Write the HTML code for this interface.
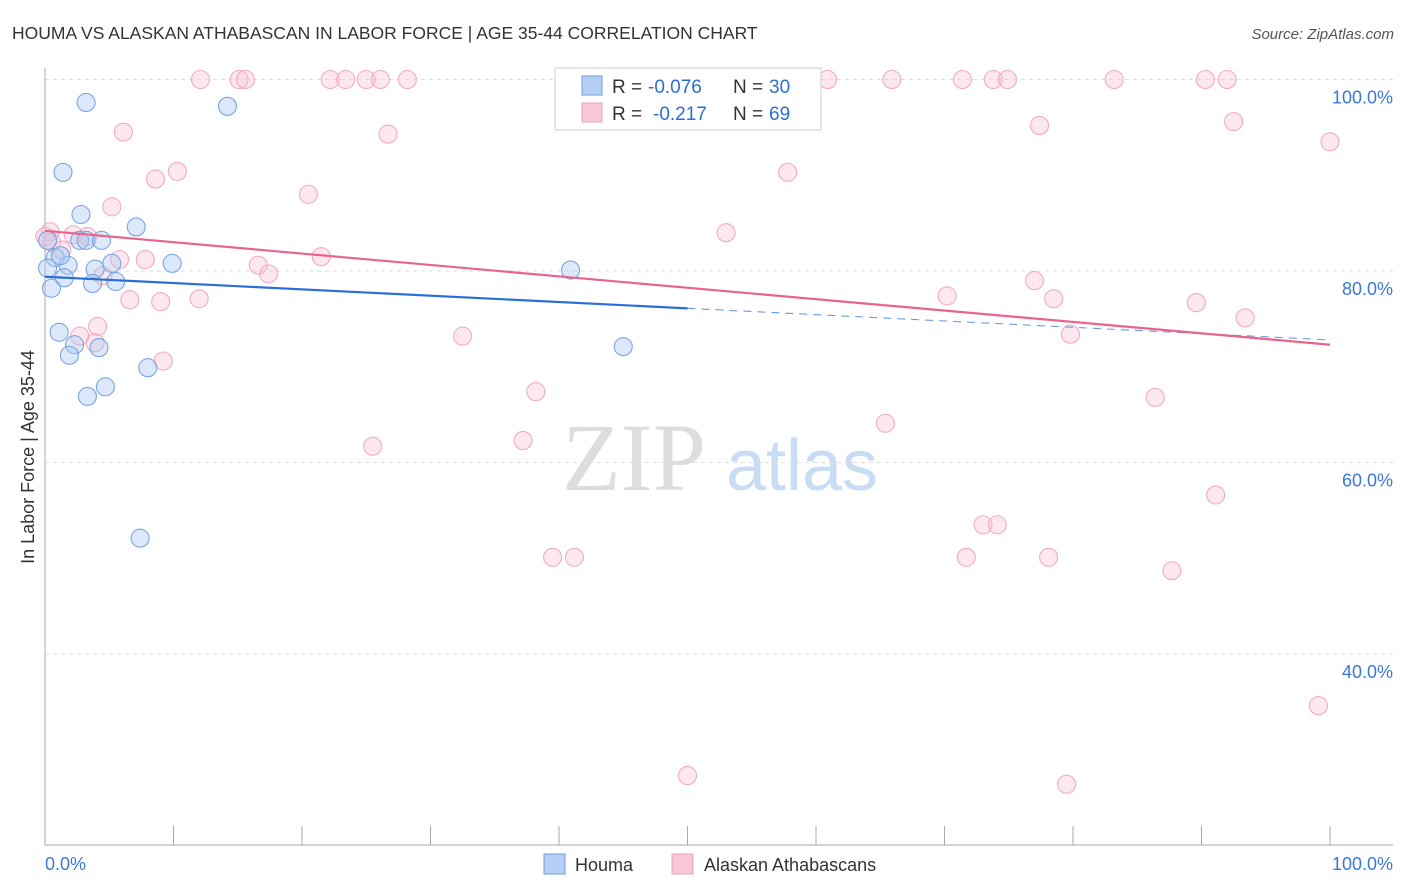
<!DOCTYPE html>
<html><head><meta charset="utf-8"><style>
body{margin:0;background:#fff;font-family:"Liberation Sans",sans-serif;}
svg{display:block}
</style></head><body>
<svg id="chart" width="1406" height="892">
<text x="12" y="39" font-size="17.5" fill="#333">HOUMA VS ALASKAN ATHABASCAN IN LABOR FORCE | AGE 35-44 CORRELATION CHART</text>
<text x="1394" y="39" font-size="15" fill="#555" font-style="italic" text-anchor="end">Source: ZipAtlas.com</text>
<text x="634" y="490" font-size="96" fill="#ddd" font-family="Liberation Serif,serif" text-anchor="middle">ZIP</text>
<text x="802" y="490" font-size="72" fill="#c8dcf4" text-anchor="middle">atlas</text>
<text transform="translate(34,457) rotate(-90)" font-size="18" fill="#333" text-anchor="middle">In Labor Force | Age 35-44</text>
<g id="grid"></g><g id="pts"></g><g id="lines"></g>
<g>
<rect x="555" y="68" width="266" height="62" fill="#fff" stroke="#ccc"/>
<rect x="582" y="76" width="20" height="19" fill="#b6d0f3" stroke="#6a9be0"/>
<rect x="582" y="103" width="20" height="19" fill="#f9c8d6" stroke="#f0a0b8"/>
<g font-size="19" fill="#333">
<text x="612" y="93">R =</text>
<text x="648" y="93" fill="#2a6fd6">-0.076</text>
<text x="733" y="93">N =</text>
<text x="769" y="93" fill="#2a6fd6">30</text>
<text x="612" y="120">R =</text>
<text x="653" y="120" fill="#2a6fd6">-0.217</text>
<text x="733" y="120">N =</text>
<text x="769" y="120" fill="#2a6fd6">69</text>
</g>
</g>
<g>
<rect x="544" y="854" width="21" height="20" fill="#b6d0f3" stroke="#6a9be0"/>
<text x="575" y="871" font-size="18" fill="#333">Houma</text>
<rect x="672" y="854" width="21" height="20" fill="#f9c8d6" stroke="#f0a0b8"/>
<text x="704" y="871" font-size="18" fill="#333">Alaskan Athabascans</text>
</g>
</svg>
<script>
const yTicks=[40,60,80,100];
const yTickLabels=["40.0%","60.0%","80.0%","100.0%"];
const xTickCount=[0,10,20,30,40,50,60,70,80,90,100];
const houmaX=[3.2,14.2,1.4,2.8,7.1,2.7,3.2,4.4,9.9,0.8,1.8,3.9,5.2,0.5,1.5,3.7,5.5,40.9,1.1,2.3,1.9,4.2,45.0,8.0,4.7,3.3,7.4,0.2,1.2,0.2];
const houmaY=[97.6,97.2,90.3,85.9,84.6,83.2,83.2,83.2,80.8,81.4,80.6,80.2,80.8,78.2,79.3,78.7,78.9,80.1,73.6,72.3,71.2,72.0,72.1,69.9,67.9,66.9,52.1,80.3,81.6,83.2];
const alaskX=[12.1,15.1,15.6,22.2,23.4,25.0,26.1,28.2,60.9,65.9,71.4,73.8,74.9,83.2,90.3,92.0,6.1,10.3,8.6,5.2,20.5,26.7,57.8,77.4,92.5,100,53.0,21.5,16.6,17.4,7.8,5.8,6.6,9.0,12.0,4.1,2.7,3.9,9.2,32.5,38.2,37.2,25.5,39.5,41.2,65.4,70.2,77.0,78.5,79.8,89.6,93.4,86.4,91.1,73.0,74.1,71.7,78.1,87.7,99.1,50.0,79.5,0.4,0.5,1.3,2.2,3.3,4.5,0.0];
const alaskY=[100,100,100,100,100,100,100,100,100,100,100,100,100,100,100,100,94.5,90.4,89.6,86.7,88.0,94.3,90.3,95.2,95.6,93.5,84.0,81.5,80.6,79.7,81.2,81.2,77.0,76.8,77.1,74.2,73.2,72.5,70.6,73.2,67.4,62.3,61.7,50.1,50.1,64.1,77.4,79.0,77.1,73.4,76.7,75.1,66.8,56.6,53.5,53.5,50.1,50.1,48.7,34.6,27.3,26.4,84.1,83.0,82.2,83.8,83.6,79.5,83.6];
const houmaTrend=[79.4,72.8];
const alaskTrend=[84.2,72.3];
const NS="http://www.w3.org/2000/svg";
const X=v=>45+v*12.85, Y=v=>79.5+(100-v)*9.575;
function mk(t,a,p){const e=document.createElementNS(NS,t);for(const k in a)e.setAttribute(k,a[k]);p.appendChild(e);return e;}
const g=document.getElementById('grid');
yTicks.forEach((t,i)=>{
 const l=mk('line',{x1:45,x2:1393,y1:Y(t),y2:Y(t),stroke:'#ddd','stroke-dasharray':'4,4'},g);
 
 
 const tx=mk('text',{x:1393,y:Y(t)+24,'font-size':18,fill:'#3b78d8','text-anchor':'end'},g);
 tx.textContent=yTickLabels[i];
 
 
});
const ax=mk('line',{x1:45,x2:45,y1:68,y2:845,stroke:'#aaa'},g);


const bx=mk('line',{x1:45,x2:1393,y1:845,y2:845,stroke:'#aaa'},g);


xTickCount.forEach(t=>{const l=mk('line',{x1:X(t),x2:X(t),y1:826,y2:845,stroke:'#aaa'},g);
 
 });
const x0=mk('text',{x:45,y:870,'font-size':18,fill:'#3b78d8'},g);x0.textContent='0.0%';


const x1=mk('text',{x:1393,y:870,'font-size':18,fill:'#3b78d8','text-anchor':'end'},g);x1.textContent='100.0%';


const p=document.getElementById('pts');
alaskX.forEach((x,i)=>{const c=mk('circle',{cx:X(x),cy:Y(alaskY[i]),r:9,fill:'rgba(248,190,208,0.35)',stroke:'#f3aac0','stroke-width':1.1},p);
 
 });
houmaX.forEach((x,i)=>{const c=mk('circle',{cx:X(x),cy:Y(houmaY[i]),r:9,fill:'rgba(170,200,242,0.4)',stroke:'#78a5e3','stroke-width':1.1},p);
 
 });
const L=document.getElementById('lines');
const hm=houmaTrend[0]+(houmaTrend[1]-houmaTrend[0])*0.5;
let a=mk('line',{x1:X(0),y1:Y(houmaTrend[0]),x2:X(50),y2:Y(hm),stroke:'#2a6fd6','stroke-width':2.2},L);


a=mk('line',{x1:X(50),y1:Y(hm),x2:X(100),y2:Y(houmaTrend[1]),stroke:'#6a9be0','stroke-width':1.1,'stroke-dasharray':'8,6'},L);


a=mk('line',{x1:X(0),y1:Y(alaskTrend[0]),x2:X(100),y2:Y(alaskTrend[1]),stroke:'#e8648e','stroke-width':2.2},L);


</script>
</body></html>
